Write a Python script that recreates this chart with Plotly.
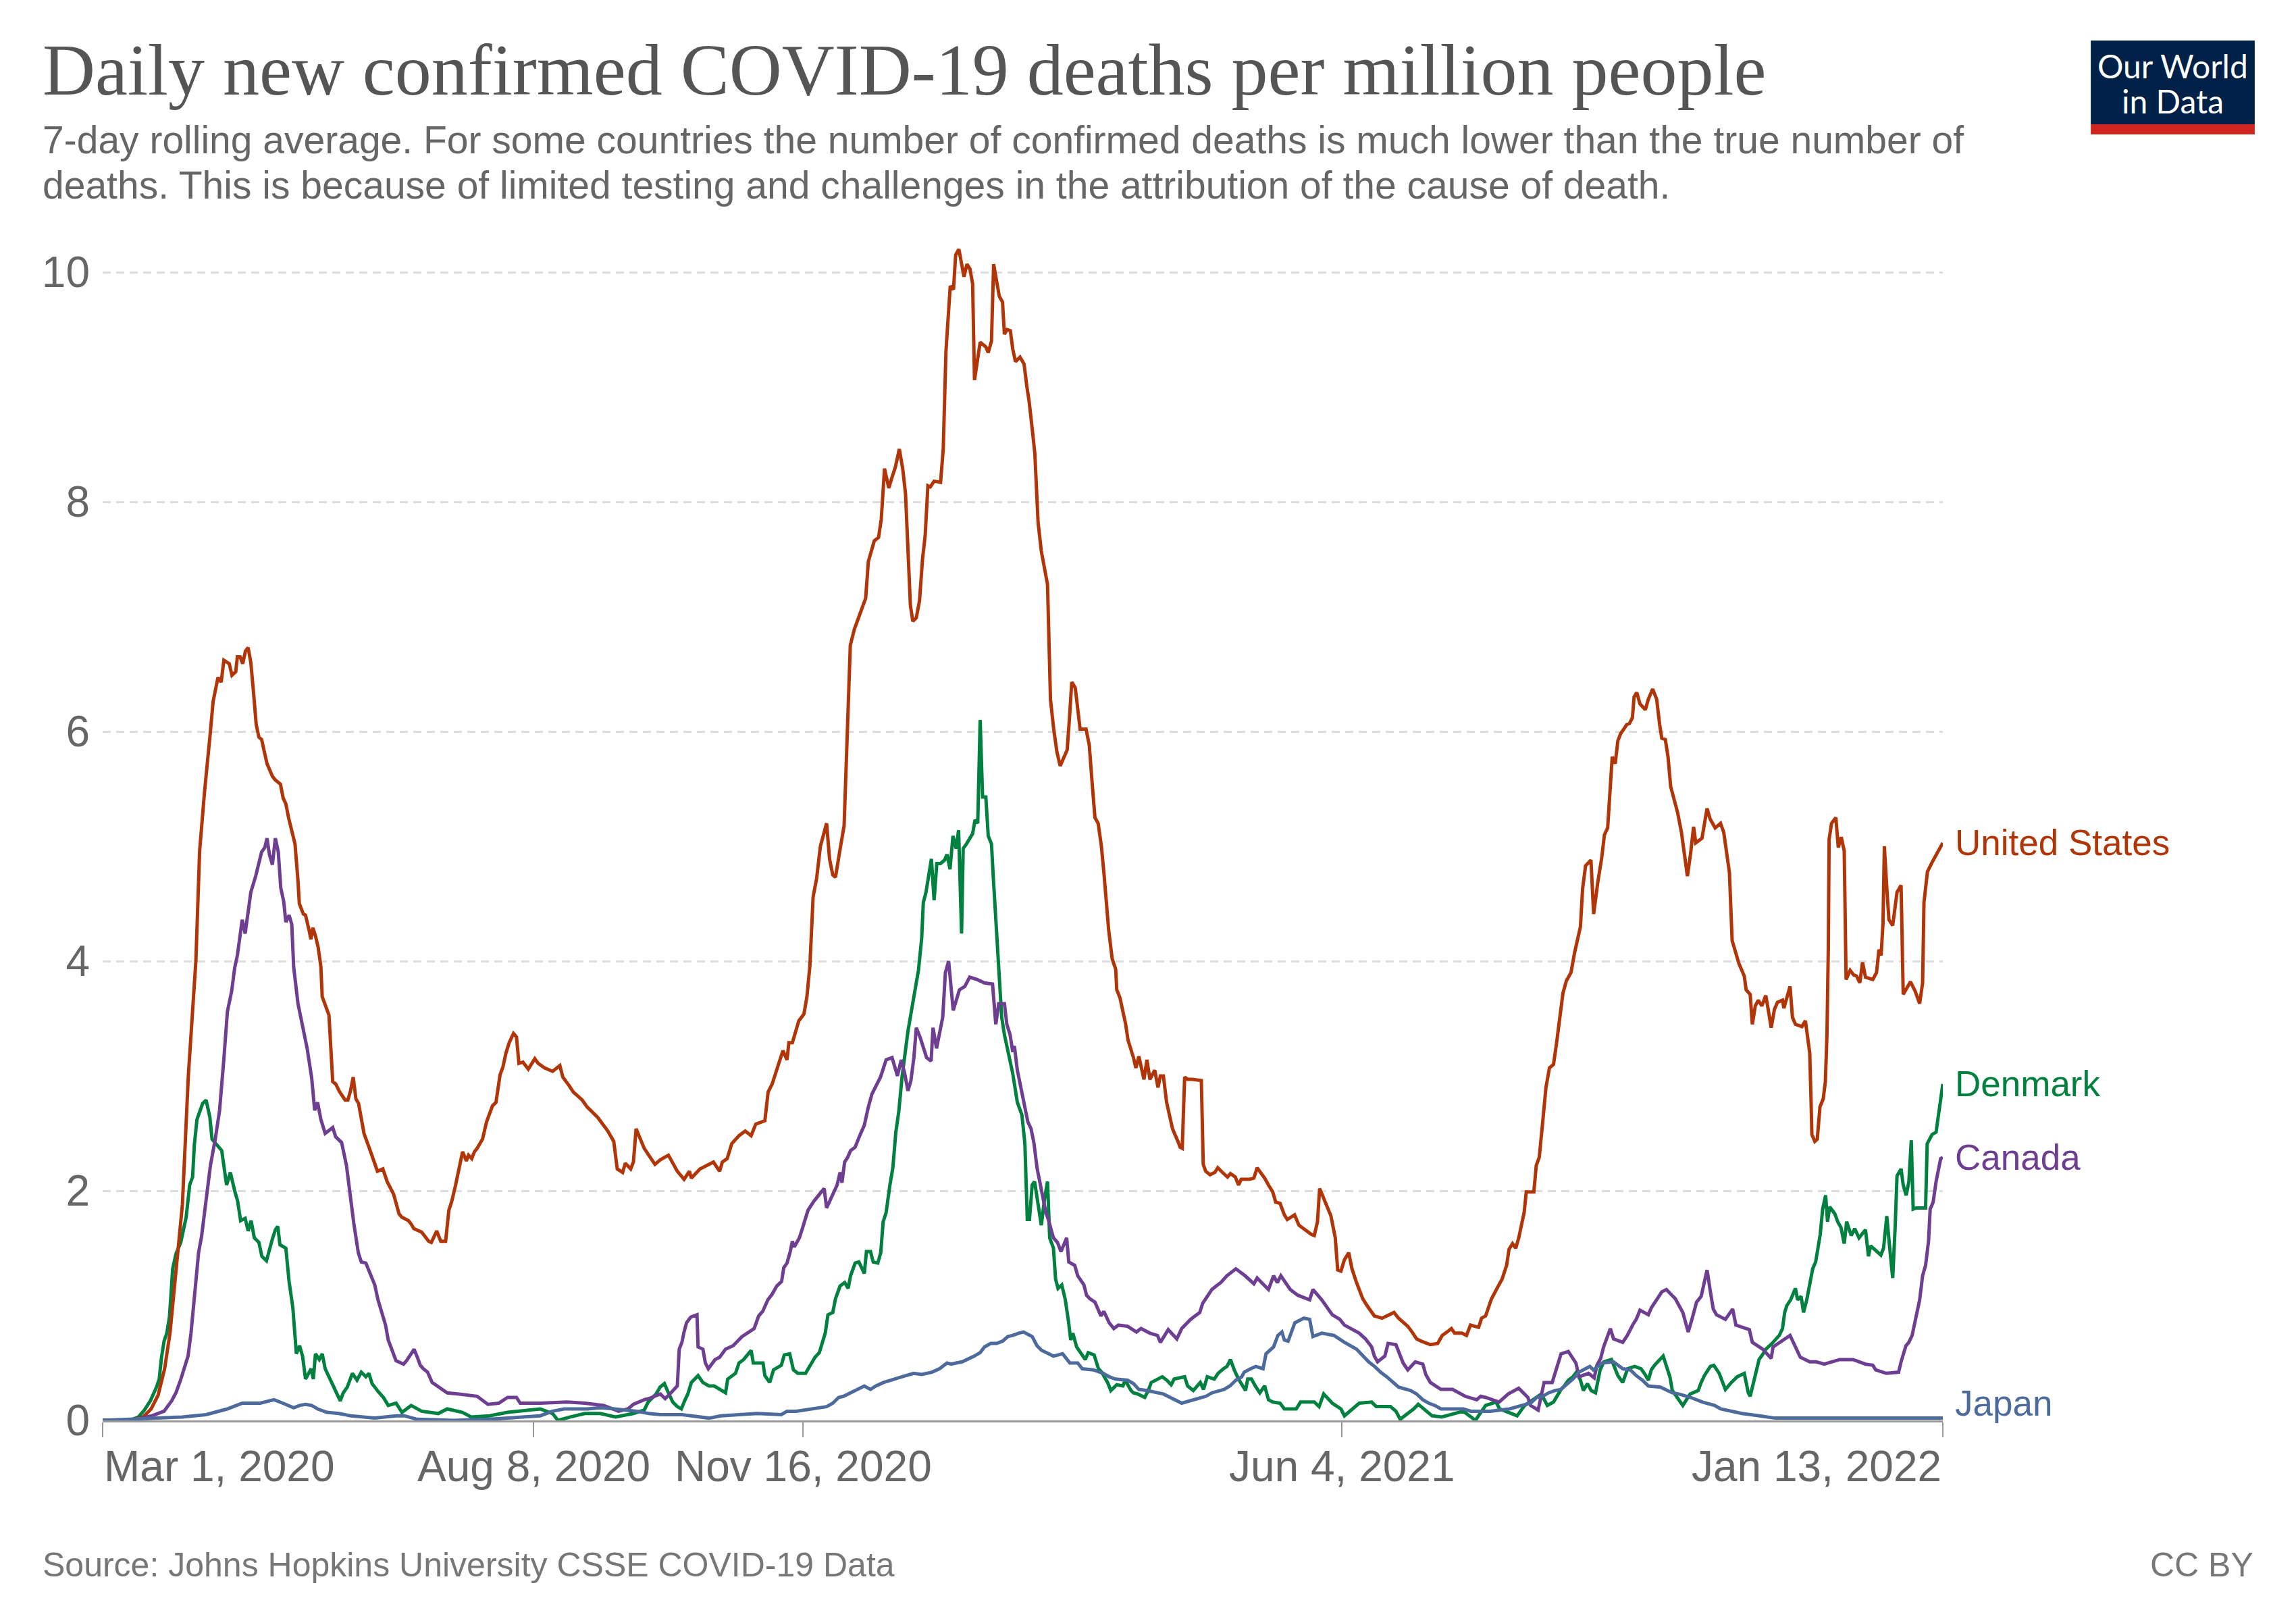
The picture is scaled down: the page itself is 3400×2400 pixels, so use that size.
import pandas as pd
import plotly.graph_objects as go

START = "2020-03-01"
END = "2022-01-13"

# ---- data: days since START, 7-day avg deaths per million ----
us_day = [0, 10, 15, 18, 20.6, 23, 25, 27, 29.6, 31.8, 34.6, 36, 37.8, 40, 41, 42.8, 44, 45, 47, 48, 49.4, 50, 51, 52, 53, 54, 55, 56, 57, 58, 59, 61, 63, 64, 66, 67, 68, 69, 70, 71.4, 72.5, 73, 74.5, 75.3, 76.7, 77.3, 78, 79, 80, 81, 81.5, 83, 84, 85.4, 86.5, 88, 90, 91, 92, 93, 94, 95, 97, 99, 100, 101, 102, 104, 105.6, 108, 110, 111, 113.5, 114.5, 115.5, 118.4, 121, 122, 123.5, 124, 125.5, 127.3, 128.5, 129.6, 131, 132.4, 133.6, 135, 135.8, 137, 138, 139, 141, 142.5, 143.6, 144.7, 146, 147.5, 148.6, 149.7, 150.9, 151.4, 152.5, 153.6, 154.5, 156, 158, 160.4, 161.6, 164, 167, 169.7, 170.8, 173, 174.7, 178, 179.8, 183.7, 186, 187.5, 189.7, 191, 193, 194, 196, 197, 198, 199, 201, 202.7, 205, 207, 210, 213.3, 215.8, 217.8, 218.5, 221.7, 226.7, 229, 230, 231.8, 233.5, 236.2, 238.5, 240.7, 242.4, 245.8, 247, 248.5, 250.8, 252.5, 254, 254.7, 256, 258.4, 260.3, 261.4, 262.5, 263.7, 265, 266.4, 268.7, 269.8, 271, 272, 273.6, 275.2, 276.2, 277.5, 279, 280.6, 283.2, 284.2, 286.4, 288, 289, 290.2, 291.8, 292.8, 294.2, 295.7, 297, 298, 299, 299.8, 300.7, 302, 303.2, 304.3, 305.3, 306.3, 307.2, 308.6, 311, 312, 313, 314, 314.6, 315.8, 316.6, 317.8, 318.7, 319.7, 320.8, 321.9, 322.9, 323.6, 325.7, 327.8, 328.7, 329.9, 330.7, 331.6, 332.8, 334, 334.7, 335.7, 336.9, 337.8, 338.8, 340.5, 342, 343, 343.9, 345, 346, 347.2, 348.4, 350.7, 351.8, 353, 354.2, 355.4, 358, 358.8, 359.7, 361, 362, 362.8, 365, 366.2, 367.2, 368.3, 369.5, 370.7, 371.7, 373.4, 374.7, 376, 376.4, 377.6, 379.7, 380.6, 382.6, 383.5, 384.6, 386.5, 387.6, 388.7, 390.5, 391.7, 392.6, 393.7, 394.9, 396, 397.1, 399.1, 399.9, 400.7, 401.6, 402.7, 404.4, 407.8, 408.5, 409.4, 411, 412.8, 413.9, 415.6, 417.5, 418.6, 420.4, 421.6, 422.6, 425.7, 427.3, 428.5, 431.3, 432.7, 434.3, 435.4, 437, 438.6, 439.7, 442.4, 444, 446.9, 448.6, 449.7, 450.9, 451.7, 453, 455.9, 457.5, 458.4, 459.6, 460.9, 462.5, 463.7, 465.4, 467.7, 469.3, 472, 474.9, 479.3, 481, 484.4, 486, 487.7, 489.4, 492.7, 495.5, 497.2, 499, 500.6, 501.8, 504.5, 506.2, 507.7, 510.7, 511.8, 513.3, 515.5, 518, 519.4, 521.1, 522, 523.3, 524.5, 525.6, 526.5, 527.6, 528.4, 531.2, 532.1, 533.2, 534.5, 535.7, 537, 538.5, 539.6, 540.7, 542, 543.3, 545, 546.3, 548.5, 549.3, 550.4, 552.4, 553.4, 554.9, 556.4, 557.4, 558.6, 560.3, 561.4, 562.4, 563.4, 565.7, 566.7, 567.8, 568.4, 569.4, 570.6, 572.6, 573.7, 575.3, 576.8, 577.9, 578.7, 580, 581, 582, 584.6, 586, 588.2, 589.4, 590.5, 591.3, 593.6, 595.5, 596.6, 598.5, 600.5, 601.7, 602.6, 603.8, 604.8, 606.2, 607.3, 609.3, 610, 611.5, 612.3, 613.4, 614.5, 615.8, 617.3, 618.4, 619.3, 620.5, 621.6, 623.5, 624, 626.3, 627.2, 628.3, 630.7, 632, 633.6, 634.1, 634.4, 635.5, 636.4, 637.4, 638.6, 639.4, 640, 640.5, 640.8, 641.7, 643.3, 644.2, 645.3, 646.4, 647.1, 648.6, 649.9, 651, 652.2, 653.2, 654.3, 657, 658.4, 659.3, 660.1, 660.8, 661.3, 662.2, 663, 664.4, 666, 667.5, 668.3, 671, 672.7, 674.4, 675.5, 676, 677.3, 679, 680.3, 681.1, 683]
us_val = [0.0, 0.0, 0.03, 0.1, 0.22, 0.45, 0.76, 1.25, 1.88, 3.0, 4.0, 4.96, 5.47, 6.0, 6.26, 6.47, 6.43, 6.62, 6.59, 6.49, 6.52, 6.65, 6.65, 6.59, 6.7, 6.73, 6.6, 6.34, 6.06, 5.95, 5.93, 5.72, 5.61, 5.58, 5.54, 5.42, 5.37, 5.25, 5.16, 5.02, 4.7, 4.5, 4.41, 4.4, 4.26, 4.19, 4.29, 4.22, 4.12, 3.95, 3.69, 3.6, 3.53, 2.95, 2.93, 2.86, 2.79, 2.79, 2.87, 2.99, 2.8, 2.76, 2.5, 2.37, 2.31, 2.25, 2.17, 2.19, 2.08, 1.97, 1.8, 1.77, 1.74, 1.71, 1.67, 1.64, 1.56, 1.55, 1.63, 1.65, 1.56, 1.56, 1.83, 1.91, 2.05, 2.22, 2.34, 2.26, 2.31, 2.28, 2.34, 2.37, 2.45, 2.6, 2.67, 2.74, 2.77, 3.01, 3.08, 3.2, 3.29, 3.32, 3.37, 3.34, 3.11, 3.12, 3.06, 3.15, 3.11, 3.07, 3.04, 3.09, 2.99, 2.92, 2.86, 2.79, 2.73, 2.64, 2.56, 2.52, 2.43, 2.19, 2.16, 2.24, 2.19, 2.25, 2.54, 2.48, 2.37, 2.31, 2.23, 2.27, 2.31, 2.17, 2.1, 2.17, 2.11, 2.19, 2.25, 2.17, 2.25, 2.28, 2.41, 2.48, 2.52, 2.48, 2.58, 2.61, 2.86, 2.93, 3.11, 3.22, 3.14, 3.29, 3.29, 3.48, 3.54, 3.69, 3.96, 4.56, 4.72, 5.0, 5.2, 4.89, 4.75, 4.73, 4.96, 5.18, 5.86, 6.75, 6.89, 7.0, 7.16, 7.48, 7.66, 7.69, 7.85, 8.29, 8.12, 8.2, 8.3, 8.46, 8.28, 8.07, 7.46, 7.1, 6.96, 6.99, 7.14, 7.5, 7.71, 8.14, 8.13, 8.18, 8.17, 8.46, 9.31, 9.63, 9.88, 9.85, 10.15, 10.2, 10.1, 9.96, 10.07, 10.03, 9.9, 9.06, 9.39, 9.35, 9.3, 9.4, 10.07, 9.96, 9.79, 9.74, 9.46, 9.5, 9.49, 9.33, 9.22, 9.26, 9.2, 9.01, 8.87, 8.64, 8.42, 7.82, 7.57, 7.28, 6.28, 6.02, 5.82, 5.7, 5.84, 6.1, 6.43, 6.38, 6.18, 6.02, 6.02, 5.88, 5.57, 5.25, 5.2, 5.0, 4.75, 4.27, 4.02, 3.93, 3.75, 3.68, 3.45, 3.31, 3.16, 3.07, 3.17, 2.97, 3.14, 2.97, 3.05, 2.9, 3.0, 3.0, 2.77, 2.66, 2.54, 2.43, 2.38, 2.37, 2.99, 2.97, 2.97, 2.96, 2.23, 2.17, 2.14, 2.16, 2.2, 2.16, 2.12, 2.15, 2.12, 2.05, 2.1, 2.1, 2.11, 2.2, 2.11, 2.05, 1.99, 1.9, 1.89, 1.79, 1.75, 1.79, 1.7, 1.65, 1.62, 1.61, 1.73, 2.02, 1.94, 1.78, 1.59, 1.31, 1.3, 1.4, 1.46, 1.32, 1.2, 1.06, 1.0, 0.91, 0.89, 0.94, 0.89, 0.82, 0.77, 0.71, 0.69, 0.66, 0.67, 0.74, 0.77, 0.8, 0.76, 0.76, 0.74, 0.83, 0.81, 0.89, 0.91, 1.06, 1.17, 1.23, 1.35, 1.49, 1.54, 1.5, 1.59, 1.68, 1.81, 1.99, 1.99, 2.22, 2.29, 2.6, 2.9, 3.07, 3.1, 3.28, 3.49, 3.72, 3.83, 3.9, 4.07, 4.3, 4.63, 4.83, 4.88, 4.41, 4.68, 4.9, 5.1, 5.16, 5.78, 5.72, 5.92, 5.98, 6.06, 6.07, 6.12, 6.3, 6.34, 6.24, 6.19, 6.28, 6.37, 6.28, 6.06, 5.94, 5.93, 5.78, 5.52, 5.29, 5.12, 4.74, 4.94, 5.17, 5.03, 5.07, 5.33, 5.24, 5.16, 5.2, 5.12, 4.97, 4.77, 4.18, 4.07, 3.98, 3.87, 3.75, 3.71, 3.45, 3.61, 3.66, 3.61, 3.7, 3.55, 3.42, 3.58, 3.64, 3.66, 3.59, 3.78, 3.51, 3.45, 3.43, 3.48, 3.2, 2.78, 2.49, 2.43, 2.45, 2.73, 2.8, 2.95, 3.36, 4.12, 5.06, 5.2, 5.25, 4.99, 5.08, 4.96, 3.84, 3.92, 3.88, 3.87, 3.81, 3.99, 3.86, 3.84, 3.9, 4.1, 4.05, 4.33, 5.0, 4.64, 4.36, 4.31, 4.6, 4.66, 3.71, 3.82, 3.74, 3.63, 3.81, 4.51, 4.78, 4.86, 4.92, 4.95, 5.03]

ca_day = [0, 10, 18.3, 22.8, 25.6, 27.2, 28.9, 30.6, 31.7, 32.8, 34, 35.6, 36.7, 37.8, 39, 40, 41.8, 43.4, 45, 46.3, 47.9, 49, 50, 51.8, 52.9, 54, 55, 56.8, 59, 60.2, 61, 61.9, 63, 64.1, 65.2, 66.1, 67.2, 68, 69.2, 70.2, 70.9, 72.5, 74.2, 75.9, 77.6, 78.7, 79.8, 81, 82.6, 85.4, 86.5, 88.7, 90.5, 91.6, 93.2, 94.9, 96, 97.7, 100, 101, 102.2, 103.9, 105, 106, 107.3, 108.9, 111.7, 112.8, 114.5, 115.6, 116.8, 117.9, 119, 120.6, 122.3, 123.5, 126.2, 127.9, 132.3, 135, 139, 143, 147, 150.3, 153.6, 155, 159, 162.4, 172.4, 179, 186, 191.5, 195, 197, 201, 202.7, 207, 208.8, 210.5, 212, 213.3, 214, 215, 215.8, 216.7, 218.3, 220.6, 221, 222.8, 223.7, 224.8, 227.3, 229, 231.2, 234, 237.3, 239.6, 241.8, 243.5, 245, 246.9, 248.5, 250.2, 252, 252.8, 254, 255.2, 256, 256.7, 258.6, 259.7, 261.8, 264, 267.8, 268.7, 271, 272.6, 273.7, 274.4, 275.4, 276.5, 277.6, 279.3, 281, 282.7, 284.1, 285.5, 288.7, 290.8, 293, 295, 296.4, 297.7, 298.9, 300, 301.1, 302, 303.5, 304.7, 305.8, 307.5, 308.2, 309.5, 311.8, 312.8, 314, 315.7, 318, 320, 321.8, 324.5, 327.3, 330.3, 331.5, 332.6, 334.7, 335.6, 336.8, 337.8, 338.4, 339.5, 340.6, 341.7, 343.4, 344.6, 345.7, 346.8, 347.9, 349, 350.1, 351, 352.9, 354.4, 355.7, 357.8, 358.6, 360.8, 361.9, 364.2, 365.2, 366.4, 368.3, 369.4, 370.5, 371.6, 373.6, 375.3, 377, 380.4, 383.7, 385.4, 388.7, 391.5, 392.6, 395.5, 398.7, 400.5, 403.8, 405.5, 407.2, 408.3, 410, 411.7, 413.3, 415, 417.3, 420.6, 424, 427.3, 428.5, 431.3, 432.7, 434.6, 436, 437.3, 440.8, 443.6, 448, 449.2, 452.5, 456.4, 459.2, 460.9, 466.4, 468.7, 471, 472, 473.2, 475.9, 477.1, 480, 482.7, 484.4, 487.2, 490, 491.1, 492.8, 494.5, 496.7, 501, 505.7, 510, 511.5, 513.3, 518.3, 521.7, 525.6, 529, 530, 532.8, 535, 538, 540, 541.3, 544, 546.8, 548, 551.5, 553.6, 554.6, 556, 557.1, 559.6, 560.8, 564.2, 565.9, 568.1, 569.2, 570.6, 573.7, 574.8, 577.6, 578.7, 580.4, 583.7, 586.5, 588.5, 590, 591.6, 593.3, 595.5, 596.6, 597.8, 599, 602.3, 605, 606.2, 611.2, 612.3, 616.2, 619.3, 620, 624, 626.3, 630.1, 633.6, 636, 639, 644.7, 649.7, 654.3, 657, 658.1, 662, 666.6, 667.5, 669.3, 670.4, 671.6, 673.2, 674.4, 675.5, 676.6, 677.7, 678.3, 679.4, 680.5, 682.2, 683]
ca_val = [0.0, 0.0, 0.04, 0.08, 0.17, 0.24, 0.35, 0.48, 0.56, 0.76, 1.04, 1.46, 1.6, 1.8, 2.05, 2.22, 2.45, 2.7, 3.15, 3.56, 3.74, 3.94, 4.05, 4.36, 4.24, 4.44, 4.6, 4.74, 4.95, 4.99, 5.07, 4.93, 4.84, 5.07, 4.95, 4.64, 4.52, 4.34, 4.4, 4.32, 3.95, 3.63, 3.43, 3.24, 2.98, 2.7, 2.77, 2.62, 2.5, 2.55, 2.47, 2.42, 2.22, 2.0, 1.72, 1.46, 1.38, 1.37, 1.24, 1.18, 1.05, 0.9, 0.83, 0.7, 0.62, 0.52, 0.49, 0.52, 0.58, 0.62, 0.55, 0.48, 0.45, 0.42, 0.33, 0.31, 0.27, 0.24, 0.23, 0.22, 0.21, 0.14, 0.15, 0.2, 0.2, 0.15, 0.15, 0.15, 0.16, 0.15, 0.13, 0.08, 0.1, 0.14, 0.18, 0.19, 0.23, 0.19, 0.23, 0.27, 0.3, 0.62, 0.68, 0.77, 0.85, 0.9, 0.92, 0.64, 0.62, 0.5, 0.45, 0.53, 0.55, 0.62, 0.65, 0.73, 0.77, 0.8, 0.91, 0.95, 1.05, 1.1, 1.17, 1.21, 1.33, 1.37, 1.47, 1.56, 1.51, 1.59, 1.67, 1.83, 1.91, 2.02, 1.85, 1.97, 2.05, 2.16, 2.07, 2.25, 2.29, 2.35, 2.38, 2.48, 2.57, 2.72, 2.84, 2.99, 3.14, 3.16, 3.0, 3.14, 3.02, 2.87, 2.96, 3.16, 3.42, 3.33, 3.24, 3.16, 3.13, 3.42, 3.24, 3.51, 3.9, 4.0, 3.57, 3.75, 3.78, 3.86, 3.84, 3.81, 3.8, 3.45, 3.63, 3.63, 3.45, 3.36, 3.21, 3.26, 3.05, 2.93, 2.78, 2.6, 2.54, 2.41, 2.2, 2.08, 1.96, 1.81, 1.75, 1.59, 1.55, 1.47, 1.59, 1.38, 1.35, 1.26, 1.18, 1.09, 1.06, 1.03, 0.97, 0.91, 0.95, 0.85, 0.8, 0.83, 0.82, 0.77, 0.8, 0.76, 0.74, 0.68, 0.79, 0.71, 0.8, 0.88, 0.91, 0.94, 1.02, 1.08, 1.14, 1.17, 1.2, 1.26, 1.32, 1.26, 1.19, 1.24, 1.17, 1.14, 1.26, 1.2, 1.26, 1.14, 1.09, 1.05, 1.14, 1.05, 0.92, 0.88, 0.83, 0.76, 0.71, 0.64, 0.56, 0.51, 0.56, 0.67, 0.66, 0.5, 0.44, 0.51, 0.49, 0.4, 0.33, 0.3, 0.27, 0.27, 0.21, 0.18, 0.21, 0.2, 0.16, 0.23, 0.28, 0.2, 0.13, 0.09, 0.33, 0.33, 0.47, 0.58, 0.6, 0.5, 0.38, 0.41, 0.37, 0.48, 0.54, 0.64, 0.8, 0.71, 0.68, 0.74, 0.84, 0.88, 0.96, 0.92, 0.98, 1.08, 1.12, 1.14, 1.06, 0.94, 0.77, 0.89, 1.03, 1.08, 1.31, 1.14, 0.97, 0.92, 0.88, 0.97, 0.83, 0.79, 0.68, 0.62, 0.54, 0.64, 0.7, 0.74, 0.55, 0.51, 0.51, 0.49, 0.53, 0.53, 0.49, 0.48, 0.44, 0.41, 0.42, 0.51, 0.65, 0.68, 0.74, 0.92, 1.05, 1.26, 1.35, 1.56, 1.84, 1.9, 2.08, 2.28, 2.29]

dk_day = [0, 10, 13.3, 15.5, 17.7, 18.8, 20, 21, 21.8, 22.8, 23.8, 24.8, 26, 27.2, 29, 31, 32.3, 33.4, 34, 35, 36.2, 37.1, 38.4, 39.8, 40.6, 42.8, 44.2, 46, 47.4, 49, 50.1, 51.2, 52.9, 54, 55.1, 56.3, 58, 59.1, 60.8, 63, 64.1, 65, 65.8, 68, 69.2, 70.6, 71.4, 71.9, 73.1, 74.2, 75.3, 76.5, 77.4, 78.2, 79, 80.4, 81.5, 82.6, 84.3, 85.4, 86.5, 88.2, 89.3, 90.8, 92.7, 94.4, 96, 97.7, 98.8, 100, 102.3, 104.2, 106, 108.9, 111.1, 114.5, 118.4, 121.2, 124.6, 127.9, 133.5, 136.8, 143.6, 150.3, 159.8, 162.4, 167, 169, 173.6, 179, 184.7, 190.4, 197, 201, 202.5, 205.4, 206.9, 208.5, 210, 211.6, 213.3, 214.8, 216, 217.2, 218.5, 221, 222.8, 225, 227, 231.2, 232, 234.9, 236.2, 237.9, 240.7, 241.5, 245.1, 245.8, 247.6, 249, 251.9, 253, 255, 256.4, 258, 260.9, 264.4, 266, 268.2, 269.2, 271, 272, 273.7, 275.4, 276.7, 277.6, 279.3, 280.7, 282.7, 283.5, 285, 286, 287.7, 288.8, 289.7, 290.8, 292.2, 293.3, 294.4, 295.5, 296.7, 297.8, 298.9, 301.1, 302.8, 304, 304.6, 305.6, 306.3, 307.6, 308.6, 309.6, 311, 312.5, 313.4, 314.5, 315.6, 316.8, 317.7, 318.8, 319.4, 320.6, 322.9, 323.8, 324.8, 325.7, 326.6, 327.8, 328.7, 329.9, 330.6, 331.5, 332.6, 333.7, 334.7, 336.3, 337.8, 339.5, 341.2, 342.3, 343.2, 344, 345, 345.9, 347, 348.4, 349.6, 350.7, 351.5, 352.9, 353.7, 354.6, 356, 357.3, 358.5, 359.3, 360.1, 361.5, 364.7, 365.8, 368, 369.6, 370.8, 373, 374.2, 376.4, 378.7, 379.5, 381.7, 382.6, 384.2, 386.8, 388.1, 389.2, 393.3, 395, 396.6, 397.7, 401.6, 402.7, 404.8, 407.4, 408.6, 410, 412.6, 414, 416, 417.3, 418.6, 420, 421.6, 424.2, 425, 426.4, 427.8, 429.5, 431.3, 432.7, 434.3, 437, 438.6, 443, 444.6, 449.7, 451.5, 453.2, 456.4, 459.6, 460.9, 466.4, 471, 472.7, 478, 480, 481.6, 486.6, 488.3, 493.4, 497, 501.2, 505, 507.9, 509.5, 513.3, 517.2, 518.5, 525, 527.8, 531, 534, 536.2, 538.5, 541.3, 542.5, 544, 545.7, 547, 548.5, 549.6, 551.1, 552.5, 554.1, 555.8, 557.2, 560, 561, 562.4, 564.2, 566, 568.6, 571, 572.5, 573.7, 574.8, 576, 579.2, 580.4, 581.7, 582.6, 585.5, 586.5, 589.2, 592.2, 593.3, 594.5, 596.7, 598, 600, 601, 602.3, 604.5, 606.7, 609.3, 610, 610.8, 611.5, 612.6, 614.8, 616, 617.3, 619.6, 622.3, 623.5, 624.3, 625.1, 626.5, 628.3, 629.1, 630.4, 631.3, 632.5, 633.6, 634.7, 635.8, 636.6, 637.5, 638.4, 639.5, 640.2, 641, 642.9, 644, 645.2, 646.4, 647.3, 649, 650.3, 651.9, 654.3, 655.4, 656.2, 658.6, 660, 661, 662.2, 663.3, 664.4, 665.3, 666, 667.5, 668.3, 669.4, 670.4, 671.3, 672, 673.2, 676.6, 677.2, 679, 680.5, 681.8, 683]
dk_val = [0.0, 0.0, 0.03, 0.09, 0.17, 0.22, 0.29, 0.36, 0.54, 0.69, 0.76, 0.9, 1.32, 1.45, 1.55, 1.77, 2.05, 2.12, 2.39, 2.62, 2.7, 2.76, 2.79, 2.64, 2.45, 2.39, 2.35, 2.05, 2.16, 2.0, 1.91, 1.74, 1.76, 1.65, 1.74, 1.59, 1.55, 1.43, 1.39, 1.58, 1.66, 1.69, 1.53, 1.5, 1.21, 0.98, 0.68, 0.58, 0.65, 0.56, 0.36, 0.42, 0.45, 0.36, 0.58, 0.53, 0.58, 0.45, 0.36, 0.31, 0.25, 0.17, 0.24, 0.29, 0.41, 0.35, 0.42, 0.38, 0.41, 0.32, 0.25, 0.2, 0.13, 0.15, 0.07, 0.13, 0.08, 0.07, 0.06, 0.1, 0.07, 0.03, 0.04, 0.07, 0.09, 0.1, 0.06, 0.0, 0.03, 0.06, 0.06, 0.03, 0.06, 0.09, 0.16, 0.23, 0.29, 0.32, 0.24, 0.16, 0.12, 0.1, 0.17, 0.23, 0.33, 0.39, 0.33, 0.3, 0.3, 0.24, 0.36, 0.41, 0.5, 0.53, 0.61, 0.5, 0.5, 0.39, 0.33, 0.44, 0.48, 0.57, 0.58, 0.44, 0.41, 0.41, 0.55, 0.59, 0.76, 0.92, 0.94, 1.06, 1.17, 1.2, 1.15, 1.26, 1.37, 1.38, 1.28, 1.47, 1.47, 1.38, 1.37, 1.46, 1.73, 1.81, 2.05, 2.2, 2.51, 2.69, 2.99, 3.17, 3.39, 3.69, 3.92, 4.2, 4.51, 4.6, 4.72, 4.89, 4.53, 4.85, 4.85, 4.88, 4.93, 4.8, 5.09, 4.98, 5.14, 4.24, 4.98, 5.02, 5.11, 5.23, 5.2, 6.1, 5.43, 5.43, 5.09, 5.02, 4.72, 4.36, 3.94, 3.51, 3.36, 3.17, 3.02, 2.77, 2.66, 2.41, 1.75, 1.75, 2.05, 2.08, 1.93, 1.7, 1.93, 2.08, 1.59, 1.5, 1.23, 1.15, 1.18, 1.05, 0.86, 0.7, 0.76, 0.64, 0.53, 0.59, 0.57, 0.45, 0.42, 0.33, 0.26, 0.31, 0.3, 0.35, 0.26, 0.24, 0.23, 0.2, 0.26, 0.33, 0.38, 0.35, 0.31, 0.36, 0.38, 0.3, 0.26, 0.33, 0.27, 0.38, 0.36, 0.41, 0.45, 0.47, 0.53, 0.44, 0.36, 0.26, 0.36, 0.36, 0.3, 0.24, 0.3, 0.18, 0.16, 0.15, 0.1, 0.1, 0.16, 0.16, 0.12, 0.23, 0.15, 0.1, 0.04, 0.15, 0.16, 0.12, 0.12, 0.08, 0.01, 0.1, 0.14, 0.04, 0.03, 0.06, 0.08, 0.03, 0.0, 0.13, 0.16, 0.1, 0.04, 0.13, 0.18, 0.23, 0.13, 0.16, 0.27, 0.3, 0.35, 0.38, 0.42, 0.35, 0.26, 0.32, 0.26, 0.24, 0.44, 0.51, 0.53, 0.47, 0.39, 0.33, 0.45, 0.47, 0.45, 0.4, 0.35, 0.44, 0.48, 0.56, 0.48, 0.38, 0.26, 0.16, 0.13, 0.23, 0.26, 0.33, 0.39, 0.47, 0.48, 0.41, 0.35, 0.27, 0.33, 0.38, 0.41, 0.32, 0.24, 0.21, 0.32, 0.53, 0.57, 0.62, 0.67, 0.74, 0.8, 0.94, 1.0, 1.05, 1.15, 1.05, 1.08, 0.94, 1.05, 1.2, 1.32, 1.38, 1.5, 1.62, 1.84, 1.96, 1.73, 1.86, 1.8, 1.73, 1.68, 1.54, 1.73, 1.61, 1.67, 1.59, 1.66, 1.43, 1.52, 1.47, 1.44, 1.5, 1.78, 1.5, 1.24, 1.68, 2.13, 2.19, 2.05, 1.96, 2.08, 2.44, 1.84, 1.85, 1.85, 2.41, 2.49, 2.51, 2.72, 2.93]

jp_day = [0, 11.5, 20, 29.5, 38.4, 41.8, 44, 46.3, 49.6, 51.9, 58.5, 61.9, 63.6, 66.9, 69.2, 70.9, 73.1, 75.3, 77.6, 79.8, 83.2, 87.7, 92.1, 97, 101, 108.9, 112, 116.7, 130, 143.6, 150, 154.8, 160.4, 162.4, 167, 171.3, 180, 184.7, 190, 198.2, 202.7, 207, 215, 220.6, 225, 229.5, 238.5, 243, 251.9, 254, 257.5, 263, 268.7, 271, 273.2, 275, 277.6, 279.8, 282.7, 285, 287, 289.8, 292.2, 296.7, 301, 304, 307.8, 310.6, 313.4, 315, 316.8, 319, 323.5, 325.7, 327.3, 329.6, 331.8, 334, 336, 337.8, 340, 341.8, 345, 346.8, 348.5, 350.1, 352.9, 356.3, 359, 361.9, 363.6, 367.7, 371.4, 373.6, 375.9, 380.4, 382.6, 384.6, 387.6, 393.7, 396, 398, 400.5, 405, 409.5, 411.7, 416.2, 418.4, 420.6, 422.8, 423.7, 426.1, 428, 430.7, 431.8, 434.6, 436.2, 437.7, 438.6, 440, 441.4, 442.5, 445.8, 448, 449.2, 452.5, 457, 458.7, 460.9, 465.4, 467.7, 469.9, 472.1, 474.3, 476.6, 478.8, 481, 485.5, 487.7, 490, 492.2, 494.5, 496.7, 505, 507.9, 515, 522.2, 526.7, 530, 532.3, 534.5, 536.7, 539, 541.2, 543.5, 545.7, 548, 550.2, 552, 553.3, 556.6, 560.8, 564.2, 567, 569.2, 571.5, 573.7, 578.2, 582.6, 585, 589.4, 593.8, 598.3, 600.5, 605, 608.4, 615, 620.7, 640, 660, 683]
jp_val = [0.0, 0.01, 0.02, 0.03, 0.05, 0.07, 0.08, 0.1, 0.13, 0.15, 0.15, 0.17, 0.18, 0.15, 0.13, 0.11, 0.13, 0.14, 0.13, 0.1, 0.07, 0.06, 0.04, 0.03, 0.02, 0.04, 0.04, 0.01, 0.0, 0.01, 0.02, 0.03, 0.04, 0.04, 0.08, 0.1, 0.1, 0.11, 0.1, 0.08, 0.06, 0.05, 0.05, 0.03, 0.02, 0.04, 0.05, 0.06, 0.05, 0.08, 0.08, 0.1, 0.12, 0.15, 0.2, 0.21, 0.24, 0.27, 0.3, 0.27, 0.3, 0.33, 0.35, 0.38, 0.41, 0.4, 0.42, 0.45, 0.5, 0.49, 0.5, 0.51, 0.56, 0.59, 0.64, 0.67, 0.67, 0.69, 0.73, 0.74, 0.76, 0.77, 0.73, 0.65, 0.61, 0.59, 0.56, 0.58, 0.5, 0.5, 0.45, 0.44, 0.41, 0.38, 0.36, 0.35, 0.32, 0.27, 0.26, 0.23, 0.2, 0.18, 0.15, 0.18, 0.21, 0.24, 0.27, 0.3, 0.35, 0.38, 0.42, 0.45, 0.47, 0.45, 0.58, 0.64, 0.74, 0.77, 0.7, 0.69, 0.77, 0.85, 0.89, 0.88, 0.73, 0.76, 0.74, 0.71, 0.68, 0.62, 0.56, 0.51, 0.47, 0.42, 0.38, 0.33, 0.29, 0.26, 0.23, 0.18, 0.15, 0.13, 0.1, 0.1, 0.08, 0.08, 0.1, 0.13, 0.15, 0.2, 0.21, 0.24, 0.26, 0.27, 0.32, 0.36, 0.42, 0.45, 0.47, 0.44, 0.5, 0.51, 0.45, 0.44, 0.39, 0.35, 0.3, 0.29, 0.24, 0.23, 0.2, 0.16, 0.13, 0.1, 0.08, 0.06, 0.04, 0.02, 0.02, 0.02, 0.02]

countries = ["Denmark", "United States", "Canada", "Japan"]
series_days = {"United States": us_day, "Canada": ca_day, "Denmark": dk_day, "Japan": jp_day}
series_vals = {"United States": us_val, "Canada": ca_val, "Denmark": dk_val, "Japan": jp_val}
colors = {"United States": "#B13507", "Canada": "#6D3E91", "Denmark": "#00813F", "Japan": "#4C6A9C"}
label_shift = {"United States": 0, "Canada": 0, "Denmark": 0, "Japan": 22}

tick_dates = ["2020-03-01", "2020-08-08", "2020-11-16", "2021-06-04", "2022-01-13"]
tick_text = ["Mar 1, 2020", "Aug 8, 2020", "Nov 16, 2020", "Jun 4, 2021", "Jan 13, 2022"]
tick_anchor = ["left", "center", "center", "center", "right"]
y_ticks = [0, 2, 4, 6, 8, 10]

TITLE = "Daily new confirmed COVID-19 deaths per million people"
SUB1 = "7-day rolling average. For some countries the number of confirmed deaths is much lower than the true number of"
SUB2 = "deaths. This is because of limited testing and challenges in the attribution of the cause of death."
SOURCE = "Source: Johns Hopkins University CSSE COVID-19 Data"

start = pd.Timestamp(START)

def to_dates(days):
    return start + pd.to_timedelta(pd.Series(days, dtype=float), unit="D")

fig = go.Figure()
for c in countries:
    fig.add_trace(go.Scatter(
        x=to_dates(series_days[c]), y=series_vals[c], mode="lines",
        line=dict(color=colors[c], width=5), name=c, hoverinfo="skip",
        showlegend=False,
    ))

SANS = "Liberation Sans, Arial, sans-serif"
annotations = []
# line end labels
for c in ["United States", "Denmark", "Canada", "Japan"]:
    d = to_dates(series_days[c]).iloc[-1]
    annotations.append(dict(
        x=d, y=series_vals[c][-1], xref="x", yref="y", text=c, showarrow=False,
        xanchor="left", yanchor="middle", xshift=16, yshift=label_shift[c],
        font=dict(family=SANS, size=53, color=colors[c]),
    ))
# x tick labels
for d, t, a in zip(tick_dates, tick_text, tick_anchor):
    annotations.append(dict(
        x=d, y=-0.039, xref="x", yref="paper", text=t, showarrow=False,
        xanchor=a, yanchor="middle", font=dict(family=SANS, size=64, color="#666666"),
    ))
# title / subtitle / footer
annotations += [
    dict(x=-0.0334, y=1.1419, xref="paper", yref="paper", text=TITLE, showarrow=False,
         xanchor="left", yanchor="middle",
         font=dict(family="Liberation Serif, Times New Roman, serif", size=108, color="#555555")),
    dict(x=-0.0334, y=1.0828, xref="paper", yref="paper", text=SUB1, showarrow=False,
         xanchor="left", yanchor="middle", font=dict(family=SANS, size=57, color="#666666")),
    dict(x=-0.0334, y=1.0445, xref="paper", yref="paper", text=SUB2, showarrow=False,
         xanchor="left", yanchor="middle", font=dict(family=SANS, size=57, color="#666666")),
    dict(x=-0.0334, y=-0.1222, xref="paper", yref="paper", text=SOURCE, showarrow=False,
         xanchor="left", yanchor="middle", font=dict(family=SANS, size=50, color="#777777")),
    dict(x=1.1695, y=-0.1222, xref="paper", yref="paper", text="CC BY", showarrow=False,
         xanchor="right", yanchor="middle", font=dict(family=SANS, size=50, color="#777777")),
    dict(x=1.1250, y=1.1456, xref="paper", yref="paper", text="Our World", showarrow=False,
         xanchor="center", yanchor="middle", font=dict(family="Lato, sans-serif", size=48, color="#ffffff")),
    dict(x=1.1250, y=1.1159, xref="paper", yref="paper", text="in Data", showarrow=False,
         xanchor="center", yanchor="middle", font=dict(family="Lato, sans-serif", size=48, color="#ffffff")),
]

shapes = [
    dict(type="rect", xref="paper", yref="paper", x0=1.0804, x1=1.1695, y0=1.0960, y1=1.1668,
         fillcolor="#002147", line=dict(width=0), layer="above"),
    dict(type="rect", xref="paper", yref="paper", x0=1.0804, x1=1.1695, y0=1.0874, y1=1.0960,
         fillcolor="#CE261E", line=dict(width=0), layer="above"),
]

# page body has an 8px margin: offset the plot area so it lands where the reference has it
fig.update_layout(
    width=3400, height=2400,
    margin=dict(l=144, r=531, t=344, b=305, pad=0),
    paper_bgcolor="white", plot_bgcolor="white",
    annotations=annotations, shapes=shapes,
    xaxis=dict(
        range=[START, END], type="date", tickvals=tick_dates, showticklabels=False,
        ticks="outside", ticklen=22, tickwidth=2, tickcolor="#999999",
        showgrid=False, zeroline=False, showline=True, linecolor="#999999", linewidth=3,
    ),
    yaxis=dict(
        range=[0, 10.3], tickvals=y_ticks, ticks="", showline=False, zeroline=False,
        showgrid=True, gridcolor="#dddddd", gridwidth=3, griddash="12px,8px",
        tickfont=dict(family=SANS, size=64, color="#666666"), ticklabelstandoff=18,
    ),
)

fig.write_html("out.html")
